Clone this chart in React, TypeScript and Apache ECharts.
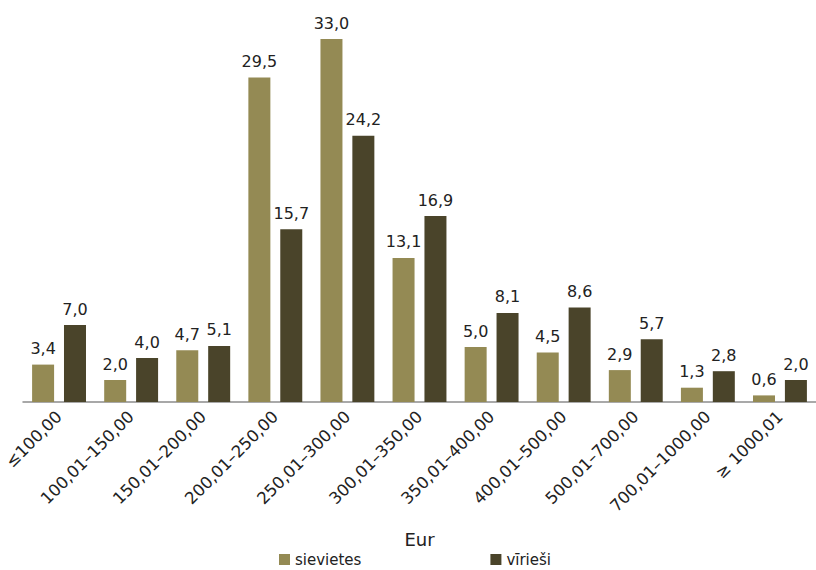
import React, { useEffect, useRef } from "react";
import * as echarts from "echarts";

const categories = [
  "≤100,00",
  "100,01–150,00",
  "150,01–200,00",
  "200,01–250,00",
  "250,01–300,00",
  "300,01–350,00",
  "350,01–400,00",
  "400,01–500,00",
  "500,01–700,00",
  "700,01–1000,00",
  "≥ 1000,01",
];
const sievietes = [3.4, 2.0, 4.7, 29.5, 33.0, 13.1, 5.0, 4.5, 2.9, 1.3, 0.6];
const viriesi = [7.0, 4.0, 5.1, 15.7, 24.2, 16.9, 8.1, 8.6, 5.7, 2.8, 2.0];

const FONT = "DejaVu Sans";
const fmt = (p: any) => Number(p.value).toFixed(1).replace(".", ",");

export default function App() {
  const ref = useRef<HTMLDivElement>(null);
  useEffect(() => {
    if (!ref.current) return;
    const chart = echarts.init(ref.current, null, { renderer: "svg" });
    const label = {
      show: true,
      position: "top",
      distance: 8,
      formatter: fmt,
      fontFamily: FONT,
      fontSize: 16,
      color: "#222",
    };
    chart.setOption({
      animation: false,
      textStyle: { fontFamily: FONT },
      grid: { left: 23, right: -4, top: 6, bottom: 168 },
      legend: {
        top: 552,
        left: 279,
        padding: 0,
        itemWidth: 11,
        itemHeight: 11,
        itemGap: 129,
        icon: "rect",
        textStyle: { fontFamily: FONT, fontSize: 15, color: "#222" },
        data: ["sievietes", "vīrieši"],
      },
      xAxis: {
        type: "category",
        data: categories,
        name: "Eur",
        nameLocation: "middle",
        nameGap: 128,
        nameTextStyle: { fontFamily: FONT, fontSize: 18, color: "#222" },
        axisLine: { lineStyle: { color: "#8c8c8c", width: 1.5 } },
        axisTick: { length: 5, lineStyle: { color: "#8c8c8c", width: 1.5 } },
        axisLabel: {
          rotate: 45,
          fontFamily: FONT,
          fontSize: 16.5,
          color: "#222",
          margin: 12,
          interval: 0,
        },
      },
      yAxis: {
        type: "value",
        min: 0,
        max: 36,
        show: false,
        splitLine: { show: false },
      },
      series: [
        {
          name: "sievietes",
          type: "bar",
          data: sievietes,
          barWidth: 22,
          barGap: "45%",
          itemStyle: { color: "#948A54" },
          label,
        },
        {
          name: "vīrieši",
          type: "bar",
          data: viriesi,
          barWidth: 22,
          barGap: "45%",
          itemStyle: { color: "#4A442A" },
          label,
        },
      ],
    });
    return () => chart.dispose();
  }, []);
  return (
    <div
      ref={ref}
      style={{ position: "absolute", left: 0, top: 0, width: 816, height: 570 }}
    />
  );
}
